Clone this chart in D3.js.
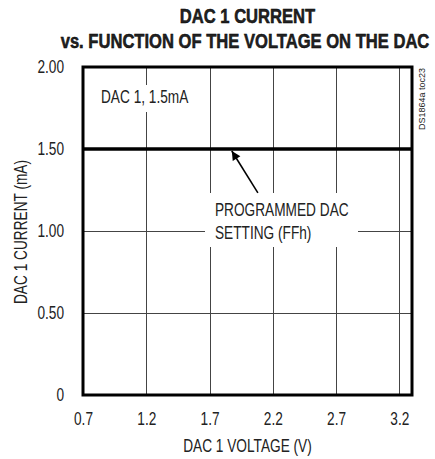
<!DOCTYPE html>
<html>
<head>
<meta charset="utf-8">
<script src="https://cdn.jsdelivr.net/npm/d3@7"></script>
<style>
  html, body { margin: 0; padding: 0; background: #fff; }
  svg { display: block; }
  text { font-family: "Liberation Sans", Arial, sans-serif; fill: #222; }
</style>
</head>
<body>
<svg id="chart" width="435" height="459"></svg>
<script>
// ---- data ----
const voltage = [0.7, 1.2, 1.7, 2.2, 2.7, 3.2, 3.3];
const current = [1.5, 1.5, 1.5, 1.5, 1.5, 1.5, 1.5];
const xTicks = [0.7, 1.2, 1.7, 2.2, 2.7, 3.2];
const yTicks = [0, 0.5, 1.0, 1.5, 2.0];
const yTickLabels = ["0", "0.50", "1.00", "1.50", "2.00"];
const titleLines = ["DAC 1 CURRENT", "vs. FUNCTION OF THE VOLTAGE ON THE DAC"];
const xTitle = "DAC 1 VOLTAGE (V)";
const yTitle = "DAC 1 CURRENT (mA)";
const legendText = "DAC 1, 1.5mA";
const noteLines = ["PROGRAMMED DAC", "SETTING (FFh)"];
const sideText = "DS1864a toc23";
const arrowTip = [1.876, 1.5];
const arrowTail = [2.082, 1.232];

// ---- layout ----
const svg = d3.select("#chart");
const L = 83, R = 412, T = 67, B = 395;
const SX = 0.76, FS = 18;
const x = d3.scaleLinear().domain([0.7, 3.3]).range([L, R]);
const y = d3.scaleLinear().domain([0, 2]).range([B, T]);

function addText(px, py, str, opts = {}) {
  const sx = opts.sx ?? SX;
  const rot = opts.rotate ? ` rotate(${opts.rotate})` : "";
  return svg.append("text")
    .attr("transform", `translate(${px},${py})${rot} scale(${sx},1)`)
    .attr("text-anchor", opts.anchor || "start")
    .style("font-size", (opts.size || FS) + "px")
    .style("font-weight", opts.weight || "normal")
    .attr("fill", opts.fill || "#222")
    .text(str);
}

// title
addText(247.5, 23, titleLines[0], {anchor: "middle", size: 21, weight: "bold", fill: "#000", sx: 0.79})
  .style("stroke", "#000").style("stroke-width", "0.5px");
addText(245, 48, titleLines[1], {anchor: "middle", size: 21, weight: "bold", fill: "#000", sx: 0.79})
  .style("stroke", "#000").style("stroke-width", "0.5px");

// gridlines
const grid = svg.append("g").attr("stroke", "#444").attr("stroke-width", 1);
grid.selectAll("line.v").data(xTicks.filter(d => d > 0.7)).enter().append("line")
  .attr("x1", d => Math.round(x(d)) + 0.5).attr("x2", d => Math.round(x(d)) + 0.5)
  .attr("y1", T).attr("y2", B);
grid.selectAll("line.h").data(yTicks.filter(d => d > 0 && d < 2)).enter().append("line")
  .attr("x1", L).attr("x2", R)
  .attr("y1", d => Math.round(y(d)) + 0.5).attr("y2", d => Math.round(y(d)) + 0.5);

// white knock-out boxes behind annotations
svg.append("rect").attr("x", 98).attr("y", 85).attr("width", 74).attr("height", 27).attr("fill", "#fff");
svg.append("rect").attr("x", 205).attr("y", 193).attr("width", 153).attr("height", 54).attr("fill", "#fff");

// data line
const line = d3.line().x((d, i) => x(voltage[i])).y(d => y(d));
svg.append("path").datum(current).attr("d", line)
  .attr("fill", "none").attr("stroke", "#000").attr("stroke-width", 3.5);

// frame
svg.append("rect").attr("x", L).attr("y", T).attr("width", R - L).attr("height", B - T)
  .attr("fill", "none").attr("stroke", "#000").attr("stroke-width", 3);

// axes
const xAxis = d3.axisBottom(x).tickValues(xTicks).tickSize(0).tickPadding(17).tickFormat(d3.format(".1f"));
const gx = svg.append("g").attr("transform", `translate(0,${B})`).call(xAxis);
gx.select(".domain").remove();
gx.selectAll("text").style("font-size", FS + "px").attr("fill", "#222")
  .style("font-family", null).attr("transform", `scale(${SX},1)`);

const yAxis = d3.axisLeft(y).tickValues(yTicks).tickSize(0).tickPadding(19)
  .tickFormat((d, i) => yTickLabels[i]);
const gy = svg.append("g").attr("transform", `translate(${L},0)`).call(yAxis);
gy.select(".domain").remove();
gy.selectAll("text").style("font-size", FS + "px").attr("fill", "#222")
  .style("font-family", null).attr("x", -19 / SX).attr("transform", `scale(${SX},1)`);

// axis titles
addText(247.5, 452, xTitle, {anchor: "middle"});
addText(27, 232, yTitle, {anchor: "middle", rotate: -90});

// legend text
addText(101, 103, legendText);

// annotation
noteLines.forEach((t, i) => addText(215, 216 + i * 23, t));

// arrow
svg.append("defs").append("marker").attr("id", "ah").attr("viewBox", "0 0 10 10")
  .attr("refX", 10).attr("refY", 5).attr("markerWidth", 11).attr("markerHeight", 9)
  .attr("markerUnits", "userSpaceOnUse").attr("orient", "auto")
  .append("path").attr("d", "M0,0 L10,5 L0,10 Z").attr("fill", "#000");
svg.append("line")
  .attr("x1", x(arrowTail[0])).attr("y1", y(arrowTail[1]))
  .attr("x2", x(arrowTip[0])).attr("y2", y(arrowTip[1]) + 2)
  .attr("stroke", "#000").attr("stroke-width", 1.6).attr("marker-end", "url(#ah)");

// side id text
addText(425, 130, sideText, {size: 9, rotate: -90, sx: 1});
</script>
</body>
</html>
